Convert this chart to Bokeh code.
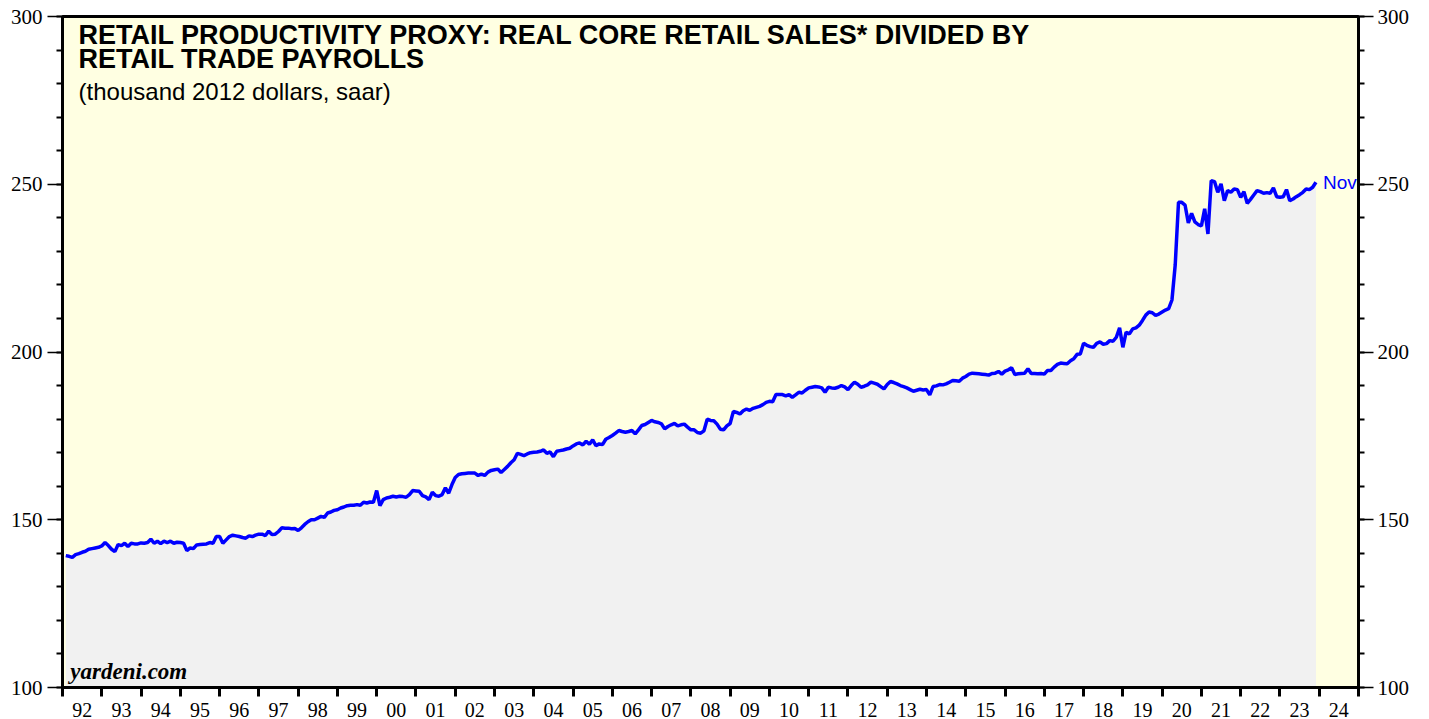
from bokeh.plotting import figure
from bokeh.models import (Range1d, LinearAxis, SingleIntervalTicker, FixedTicker,
                          CustomJSTickFormatter, Label)
from bokeh.embed import file_html
from bokeh.resources import INLINE
from bokeh.core.properties import value

# ---------------- data (monthly, Jan 1992 - Nov 2023) ----------------
v1992 = [139.3, 139.1, 138.8, 139.6, 139.9, 140.3, 140.6, 141.2, 141.4, 141.6, 141.8, 142.2]
v1993 = [143.2, 142.3, 141.2, 140.5, 142.6, 142.3, 143.0, 142.0, 143.0, 142.8, 142.8, 143.1]
v1994 = [143.0, 143.2, 144.2, 143.0, 143.6, 142.9, 143.6, 143.2, 143.6, 143.0, 143.3, 143.2]
v1995 = [143.0, 140.8, 141.6, 141.4, 142.5, 142.6, 142.7, 142.8, 143.2, 143.0, 145.0, 145.0]
v1996 = [143.0, 144.0, 145.0, 145.4, 145.2, 145.0, 144.7, 144.5, 145.2, 145.0, 145.4, 145.7]
v1997 = [145.7, 145.3, 146.6, 145.6, 145.7, 146.5, 147.6, 147.5, 147.5, 147.3, 147.4, 146.8]
v1998 = [147.6, 148.6, 149.4, 150.0, 150.0, 150.5, 151.0, 150.7, 152.0, 152.3, 152.8, 153.0]
v1999 = [153.5, 153.8, 154.2, 154.3, 154.3, 154.5, 154.3, 155.2, 155.0, 155.3, 155.2, 158.7]
v2000 = [154.2, 156.0, 156.5, 156.7, 157.0, 156.8, 157.0, 156.9, 156.7, 157.5, 158.7, 158.6]
v2001 = [158.5, 157.2, 156.8, 156.0, 158.2, 157.2, 157.0, 157.5, 159.5, 157.9, 160.5, 162.6]
v2002 = [163.5, 163.7, 163.8, 163.9, 163.9, 163.9, 163.2, 163.6, 163.2, 164.2, 164.7, 164.9]
v2003 = [165.1, 164.1, 165.0, 165.9, 167.0, 167.9, 169.8, 169.5, 169.1, 169.6, 170.0, 170.1]
v2004 = [170.2, 170.4, 170.8, 169.8, 170.2, 168.8, 170.4, 170.6, 170.8, 171.1, 171.3, 172.0]
v2005 = [172.6, 172.9, 172.3, 173.4, 172.5, 173.8, 172.1, 172.6, 172.4, 174.0, 174.5, 175.1]
v2006 = [175.8, 176.6, 176.3, 176.1, 176.3, 176.6, 175.6, 176.8, 178.1, 178.4, 179.0, 179.6]
v2007 = [179.2, 179.0, 178.6, 177.1, 177.8, 178.3, 178.7, 178.0, 178.3, 178.5, 177.6, 176.8]
v2008 = [176.8, 176.0, 175.8, 176.5, 180.0, 179.6, 179.5, 178.5, 177.0, 176.8, 178.0, 178.7]
v2009 = [182.3, 182.0, 181.5, 182.5, 183.0, 182.6, 183.2, 183.5, 183.8, 184.3, 185.0, 185.3]
v2010 = [185.2, 187.3, 187.3, 187.3, 186.9, 187.3, 186.5, 187.2, 188.0, 187.8, 188.6, 189.3]
v2011 = [189.5, 189.7, 189.6, 189.3, 188.0, 189.5, 189.3, 189.2, 189.5, 190.0, 189.6, 188.8]
v2012 = [190.0, 191.0, 190.4, 189.5, 189.8, 190.2, 191.0, 190.7, 190.4, 189.7, 189.0, 190.3]
v2013 = [191.2, 190.9, 190.5, 190.0, 189.7, 189.3, 188.8, 188.3, 188.6, 188.9, 188.7, 188.8]
v2014 = [187.2, 189.7, 189.9, 190.3, 190.2, 190.5, 191.0, 191.5, 191.4, 191.3, 192.2, 192.7]
v2015 = [193.4, 193.7, 193.6, 193.5, 193.4, 193.3, 193.1, 193.6, 193.7, 194.2, 193.4, 194.3]
v2016 = [194.7, 195.3, 193.3, 193.5, 193.6, 193.7, 195.0, 193.6, 193.6, 193.5, 193.6, 193.4]
v2017 = [194.5, 194.5, 195.5, 196.3, 196.7, 196.6, 196.5, 197.4, 198.0, 199.3, 199.4, 202.6]
v2018 = [202.0, 201.6, 201.4, 202.6, 203.0, 202.3, 202.5, 203.4, 203.2, 204.4, 207.2, 201.4]
v2019 = [205.9, 205.4, 206.9, 207.2, 208.0, 209.4, 211.0, 211.9, 211.7, 210.9, 211.3, 211.9]
v2020 = [212.5, 212.9, 215.5, 226.0, 244.6, 244.6, 243.8, 238.5, 241.3, 238.8, 238.0, 237.6]
v2021 = [242.7, 235.2, 251.1, 250.8, 247.6, 250.1, 245.1, 248.1, 247.6, 248.6, 248.4, 246.1]
v2022 = [247.8, 244.3, 245.5, 246.8, 248.1, 247.8, 247.3, 247.5, 247.3, 248.9, 246.3, 246.1]
v2023 = [246.3, 248.4, 245.1, 245.6, 246.3, 246.9, 247.6, 248.6, 248.4, 249.1, 250.6]

years = list(range(1992, 2024))
series = [v1992, v1993, v1994, v1995, v1996, v1997, v1998, v1999, v2000, v2001,
          v2002, v2003, v2004, v2005, v2006, v2007, v2008, v2009, v2010, v2011,
          v2012, v2013, v2014, v2015, v2016, v2017, v2018, v2019, v2020, v2021,
          v2022, v2023]
last_label = "Nov"

title_1 = "RETAIL PRODUCTIVITY PROXY: REAL CORE RETAIL SALES* DIVIDED BY"
title_2 = "RETAIL TRADE PAYROLLS"
subtitle = "(thousand 2012 dollars, saar)"
source = "yardeni.com"

xs, ys = [], []
for yr, vals in zip(years, series):
    for i, v in enumerate(vals):
        xs.append(yr + (i + 1) / 12.0)
        ys.append(v)

# ---------------- figure ----------------
p = figure(width=1421, height=719,
           x_range=Range1d(1992, 2025), y_range=Range1d(100, 300),
           output_backend="svg", toolbar_location=None,
           min_border_left=62, min_border_right=63, min_border_top=16, min_border_bottom=32,
           background_fill_color="#ffffe2", border_fill_color="white")
p.grid.visible = False
p.outline_line_color = "black"
p.outline_line_width = 3

# area + line
p.varea(x=xs, y1=[100] * len(xs), y2=ys, fill_color="#f1f1f1")
p.line(xs, ys, line_color="#0000ff", line_width=3.5)
p.text(x=[xs[-1]], y=[ys[-1]], text=[last_label], x_offset=7, text_baseline="middle",
       text_color="#0000ff", text_font=value("Liberation Sans"), text_font_size="19px")

# y axes
def style_y(ax, standoff):
    ax.ticker = SingleIntervalTicker(interval=50, num_minor_ticks=5)
    ax.axis_line_color = "black"
    ax.axis_line_width = 3
    ax.major_tick_in = 0
    ax.major_tick_out = 15
    ax.major_tick_line_width = 1.5
    ax.minor_tick_in = 0
    ax.minor_tick_out = 6
    ax.minor_tick_line_width = 2
    ax.major_label_text_font = "Liberation Serif"
    ax.major_label_text_font_size = "21px"
    ax.major_label_text_color = "black"
    ax.major_label_standoff = standoff

style_y(p.yaxis[0], 5)
ry = LinearAxis()
style_y(ry, 4)
p.add_layout(ry, "right")

# x axis
xa = p.xaxis[0]
xa.ticker = FixedTicker(ticks=[y + 0.5 for y in range(1992, 2025)],
                        minor_ticks=list(range(1992, 2026)))
xa.formatter = CustomJSTickFormatter(
    code="var y = Math.floor(tick) % 100; return (y < 10 ? '0' : '') + y;")
xa.axis_line_color = "black"
xa.axis_line_width = 3
xa.major_tick_in = 0
xa.major_tick_out = 0
xa.minor_tick_in = 0
xa.minor_tick_out = 9
xa.minor_tick_line_width = 3
xa.major_label_text_font = "Liberation Serif"
xa.major_label_text_font_size = "20px"
xa.major_label_text_color = "black"
xa.major_label_standoff = 6

# texts
p.add_layout(Label(x=1992.41, y=294.6, text=title_1, text_font="Liberation Sans",
                   text_font_style="bold", text_font_size="27px", text_color="black",
                   text_baseline="alphabetic"))
p.add_layout(Label(x=1992.41, y=287.2, text=title_2, text_font="Liberation Sans",
                   text_font_style="bold", text_font_size="27px", text_color="black",
                   text_baseline="alphabetic"))
p.add_layout(Label(x=1992.41, y=277.7, text=subtitle, text_font="Liberation Sans",
                   text_font_size="24px", text_color="black", text_baseline="alphabetic"))
p.add_layout(Label(x=1992.2, y=104.8, text=source, text_font="Liberation Serif",
                   text_font_style="bold italic", text_font_size="23px", text_color="black",
                   text_baseline="alphabetic"))

open("out.html", "w").write(file_html(p, INLINE))
